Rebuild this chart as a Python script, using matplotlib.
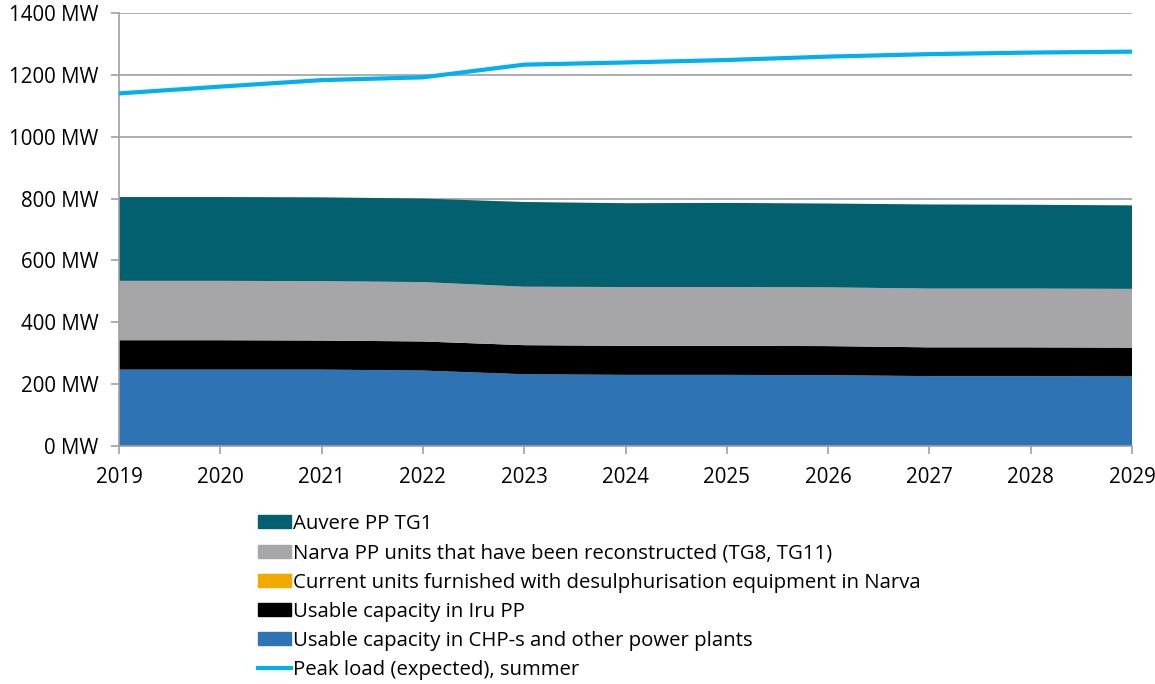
import matplotlib
matplotlib.use("Agg")
import matplotlib.pyplot as plt
from matplotlib.patches import Patch
from matplotlib.lines import Line2D
from matplotlib.ticker import FuncFormatter

plt.rcParams["font.family"] = ["Open Sans", "DejaVu Sans"]

years = [2019, 2020, 2021, 2022, 2023, 2024, 2025, 2026, 2027, 2028, 2029]
# stacked capacities, MW (bottom to top)
chp_other = [247, 247, 247, 244, 232, 230, 230, 229, 226, 226, 225]
iru = [95, 95, 94, 94, 94, 94, 94, 94, 93, 93, 93]
narva_desulph = [0, 0, 0, 0, 0, 0, 0, 0, 0, 0, 0]
narva_reconstr = [192, 192, 192, 192, 189, 190, 190, 190, 190, 190, 190]
auvere = [271, 271, 271, 270, 274, 271, 272, 271, 272, 271, 270]
peak_load = [1140, 1162, 1183, 1192, 1233, 1240, 1248, 1259, 1267, 1272, 1275]

labels = [
    "Auvere PP TG1",
    "Narva PP units that have been reconstructed (TG8, TG11)",
    "Current units furnished with desulphurisation equipment in Narva",
    "Usable capacity in Iru PP",
    "Usable capacity in CHP-s and other power plants",
    "Peak load (expected), summer",
]
c_auvere = "#02606f"
c_narva = "#a6a6a8"
c_desulph = "#f2a900"
c_iru = "#000000"
c_chp = "#2e74b5"
c_peak = "#00b0f0"

fig = plt.figure(figsize=(11.55, 6.84), dpi=100)
ax = fig.add_axes([119 / 1155, 1 - 446 / 684, (1132 - 119) / 1155, (446 - 13) / 684])

ax.stackplot(years, chp_other, iru, narva_desulph, narva_reconstr, auvere,
             colors=[c_chp, c_iru, c_desulph, c_narva, c_auvere], lw=0, zorder=2)
ax.plot(years, peak_load, color=c_peak, lw=3, zorder=3)

ax.set_xlim(2019, 2029)
ax.set_ylim(0, 1400)
ax.set_xticks(years)
ax.set_yticks(range(0, 1401, 200))
ax.yaxis.set_major_formatter(FuncFormatter(lambda v, p: f"{int(v)} MW"))
ax.grid(axis="y", color="#a0a0a0", lw=1.2, zorder=1)
ax.set_axisbelow(True)
for s in ["top", "right"]:
    ax.spines[s].set_visible(False)
for s in ["left", "bottom"]:
    ax.spines[s].set_color("#a0a0a0")
    ax.spines[s].set_linewidth(1.2)
ax.tick_params(axis="both", colors="#a0a0a0", labelcolor="black", labelsize=14.8,
               length=6, width=1.2, direction="out")
ax.tick_params(axis="x", pad=9)
ax.tick_params(axis="y", pad=9)

handles = [
    Patch(color=c_auvere),
    Patch(color=c_narva),
    Patch(color=c_desulph),
    Patch(color=c_iru),
    Patch(color=c_chp),
    Line2D([0], [0], color=c_peak, lw=3),
]
fig.legend(handles, labels, loc="upper left", bbox_to_anchor=(250 / 1155, 1 - 506 / 684),
           frameon=False, fontsize=14.7, handlelength=1.6, handleheight=0.6,
           handletextpad=0.1, labelspacing=0.45, borderaxespad=0)

fig.savefig("out.png", dpi=100)
